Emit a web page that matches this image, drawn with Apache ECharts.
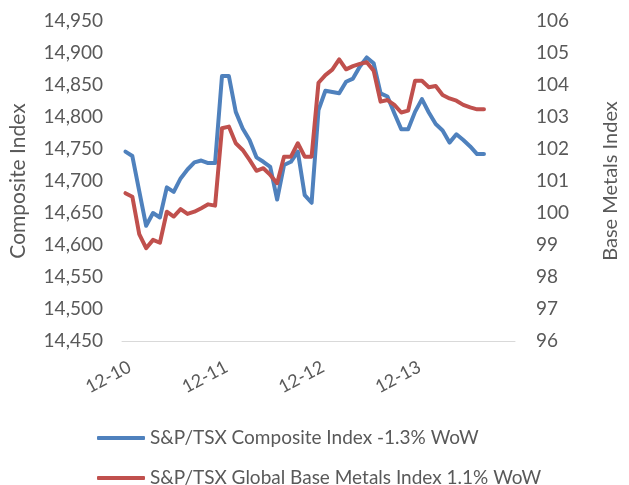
<!DOCTYPE html>
<html>
<head>
<meta charset="utf-8">
<title>S&amp;P/TSX Composite vs Base Metals</title>
<script src="https://cdn.jsdelivr.net/npm/echarts@6/dist/echarts.min.js"></script>
<style>
  html, body { margin: 0; padding: 0; background: #fff; }
  #chart { width: 629px; height: 485px; }
</style>
</head>
<body>
<div id="chart"></div>
<script>
// tick labels on the x axis, one every pointsPerDay slots
const dayLabels = ["12-10", "12-11", "12-12", "12-13"];
const pointsPerDay = 14;
const slotCount = 57; // axis runs a little past the last reading

// S&P/TSX Composite Index (left axis)
const composite = [
  14746, 14739, 14684, 14630, 14650, 14643, 14690, 14683, 14704, 14718,
  14729, 14732, 14728, 14728, 14864, 14864, 14808, 14782, 14764, 14737,
  14730, 14722, 14671, 14725, 14730, 14746, 14678, 14666, 14811, 14841,
  14839, 14837, 14855, 14860, 14879, 14893, 14884, 14837, 14832, 14806,
  14781, 14781, 14808, 14828, 14807, 14789, 14779, 14760, 14773, 14764,
  14754, 14742, 14742
];

// S&P/TSX Global Base Metals Index (right axis)
const baseMetals = [
  100.62, 100.51, 99.34, 98.90, 99.16, 99.07, 100.04, 99.89, 100.12, 99.97,
  100.04, 100.15, 100.27, 100.23, 102.65, 102.70, 102.18, 101.97, 101.66, 101.32,
  101.40, 101.19, 100.93, 101.76, 101.76, 102.18, 101.76, 101.76, 104.07, 104.31,
  104.48, 104.80, 104.49, 104.59, 104.66, 104.71, 104.45, 103.48, 103.53, 103.38,
  103.14, 103.20, 104.13, 104.13, 103.93, 103.97, 103.69, 103.58, 103.51, 103.38,
  103.30, 103.24, 103.24
];

const seriesNames = [
  "S&P/TSX Composite Index -1.3% WoW",
  "S&P/TSX Global Base Metals Index 1.1% WoW"
];

const categories = Array.from({ length: slotCount }, (_, i) => String(i));

const textColor = "#595959";
const fontFamily = "Lato, 'Liberation Sans', sans-serif";

const chart = echarts.init(document.getElementById("chart"));

const option = {
  animation: false,
  textStyle: { fontFamily: fontFamily, color: textColor },
  grid: { left: 118, right: 88, top: 21, bottom: 144 },
  legend: {
    orient: "vertical",
    left: 92,
    top: 423,
    height: 80,
    itemWidth: 48,
    itemHeight: 4,
    itemGap: 20,
    icon: "roundRect",
    textStyle: { fontSize: 19, color: textColor, lineHeight: 20, fontFamily: fontFamily },
    data: seriesNames
  },
  xAxis: {
    type: "category",
    data: categories,
    boundaryGap: true,
    axisLine: { lineStyle: { color: "#D9D9D9", width: 1 } },
    axisTick: { show: false },
    axisLabel: {
      interval: pointsPerDay - 1,
      rotate: 28,
      margin: 27,
      fontSize: 18,
      color: textColor,
      padding: [0, -5, 0, 0],
      formatter: (v, i) => (i % pointsPerDay === 0 && dayLabels[i / pointsPerDay]) || ""
    },
    splitLine: { show: false }
  },
  yAxis: [
    {
      type: "value",
      min: 14450,
      max: 14950,
      interval: 50,
      name: "Composite Index",
      nameLocation: "middle",
      nameGap: 93,
      nameTextStyle: { fontSize: 21, color: textColor },
      axisLine: { show: false },
      axisTick: { show: false },
      splitLine: { show: false },
      axisLabel: {
        margin: 19,
        fontSize: 19,
        color: textColor,
        formatter: v => v.toLocaleString("en-US")
      }
    },
    {
      type: "value",
      min: 96,
      max: 106,
      interval: 1,
      name: "Base Metals Index",
      nameLocation: "middle",
      nameGap: 86,
      nameRotate: 90,
      nameTextStyle: { fontSize: 20, color: textColor },
      axisLine: { show: false },
      axisTick: { show: false },
      splitLine: { show: false },
      axisLabel: { margin: 21, fontSize: 19, color: textColor }
    }
  ],
  series: [
    {
      name: seriesNames[0],
      type: "line",
      yAxisIndex: 0,
      data: composite,
      showSymbol: false,
      lineStyle: { color: "#4F81BD", width: 4, cap: "round", join: "round" },
      itemStyle: { color: "#4F81BD" }
    },
    {
      name: seriesNames[1],
      type: "line",
      yAxisIndex: 1,
      data: baseMetals,
      showSymbol: false,
      lineStyle: { color: "#C0504D", width: 4, cap: "round", join: "round" },
      itemStyle: { color: "#C0504D" }
    }
  ]
};

chart.setOption(option);
window.addEventListener("resize", () => chart.resize());
</script>
</body>
</html>
